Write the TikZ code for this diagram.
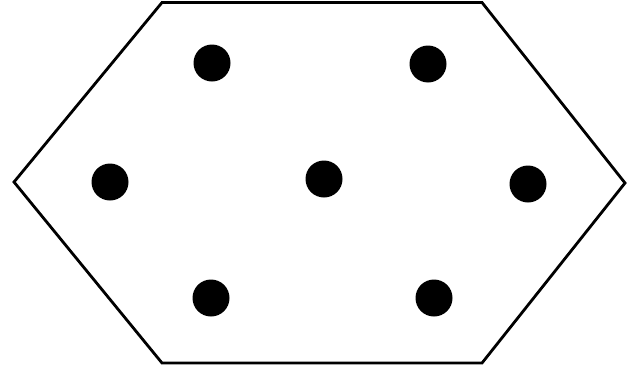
\documentclass[tikz,border=0pt]{standalone}
\begin{document}
\begin{tikzpicture}[x=1pt,y=-1pt,
  dot/.style={circle,fill=black,minimum size=37pt,inner sep=0pt},
  edge/.style={draw=black,line width=2.8pt,line join=miter}]
\useasboundingbox (0,0) rectangle (628,375);
\coordinate (tl) at (162,2.5);
\coordinate (tr) at (482,2.5);
\coordinate (r) at (625,183);
\coordinate (br) at (482,363);
\coordinate (bl) at (162,363);
\coordinate (l) at (14,182);
\draw[edge] (tl) -- (tr) -- (r) -- (br) -- (bl) -- (l) -- cycle;
\node[dot] (d1) at (212,63) {};
\node[dot] (d2) at (428,64) {};
\node[dot] (d3) at (110,182) {};
\node[dot] (d4) at (324,179) {};
\node[dot] (d5) at (528,184) {};
\node[dot] (d6) at (211,298) {};
\node[dot] (d7) at (434,298) {};
\end{tikzpicture}
\end{document}
